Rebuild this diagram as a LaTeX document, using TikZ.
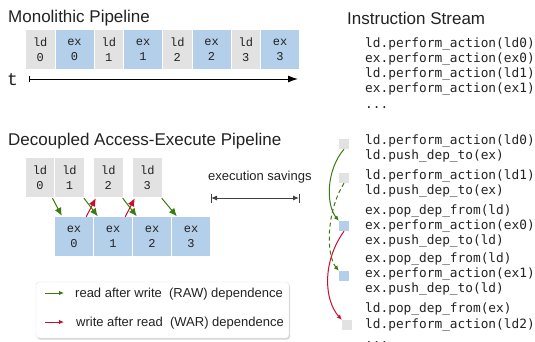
\documentclass[tikz,border=0pt]{standalone}
\usepackage{fontspec}
\setmainfont{Liberation Sans}
\newfontfamily\boxfont{Liberation Mono}
\newfontfamily\codefont{DejaVu Sans Mono}
\usetikzlibrary{arrows.meta,shadows,calc}
\definecolor{ldgray}{HTML}{E2E2E2}
\definecolor{exblue}{HTML}{B4CFEA}
\definecolor{rawgreen}{HTML}{3A7A0E}
\definecolor{warred}{HTML}{C4122E}
\definecolor{txt}{HTML}{222222}
\begin{document}
\begin{tikzpicture}[x=1pt,y=-1pt,
  stage/.style={inner sep=0pt, minimum height=39pt, align=center, text=txt,
    font=\boxfont\fontsize{12}{15}\selectfont},
  ldbox/.style={stage, fill=ldgray, minimum width=28.5pt},
  exbox/.style={stage, fill=exblue, minimum width=38pt},
  title/.style={anchor=base west, inner sep=0pt, text=txt, font=\fontsize{17}{20}\selectfont},
  label/.style={anchor=base west, inner sep=0pt, text=txt, font=\fontsize{13}{15}\selectfont},
  code/.style={anchor=base west, inner sep=0pt, text=txt, font=\codefont\fontsize{12.8}{15}\selectfont},
  sq/.style={inner sep=0pt, minimum size=10pt},
  raw/.style={draw=rawgreen, line width=1pt, -{Latex[length=8pt,width=7pt]}},
  war/.style={draw=warred, line width=1pt, -{Latex[length=8pt,width=7pt]}},
  rawsm/.style={draw=rawgreen, line width=1pt, -{Latex[length=5pt,width=4.5pt]}},
  warsm/.style={draw=warred, line width=1pt, -{Latex[length=5pt,width=4.5pt]}},
]
\useasboundingbox (0,0) rectangle (535,341);

% ---- Monolithic pipeline
\node[title] (t-mono) at (8,22) {Monolithic Pipeline};
\foreach \k in {0,1,2,3}{
  \node[ldbox] (m-ld\k) at ({40.25+68.5*\k},49.5) {ld\\\k};
  \node[exbox] (m-ex\k) at ({74.5+68.5*\k},49.5) {ex\\\k};
}
\node[anchor=base west, inner sep=0pt, text=txt, font=\boxfont\fontsize{18}{20}\selectfont] (t-lab) at (7,85.5) {t};
\coordinate (ax0) at (29,79);
\coordinate (ax1) at (298,79);
\draw[line width=1pt, {Bar[width=6pt]}-{Latex[length=10pt,width=7pt]}] (ax0) -- (ax1);

% ---- Decoupled pipeline
\node[title] (t-dae) at (8,145) {Decoupled Access-Execute Pipeline};
\node[ldbox] (d-ld0) at (40,177.5) {ld\\0};
\node[ldbox] (d-ld1) at (69.5,177.5) {ld\\1};
\node[ldbox] (d-ld2) at (108.25,177.5) {ld\\2};
\node[ldbox] (d-ld3) at (147.25,177.5) {ld\\3};
\foreach \k in {0,1,2,3}{
  \node[exbox] (d-ex\k) at ({74+39*\k},236.5) {ex\\\k};
}
\draw[raw] ($(d-ld0.south east)+(-2,1)$) -- ($(d-ex0.north west)+(7,-1)$);
\draw[war] ($(d-ex0.north east)+(-7,0)$) -- ($(d-ld2.south west)+(2,1)$);
\draw[raw] ($(d-ld1.south east)+(0,1)$) -- ($(d-ex1.north west)+(4,-0.5)$);
\draw[war] ($(d-ex1.north east)+(-7,0)$) -- ($(d-ld3.south west)+(2,1)$);
\draw[raw] ($(d-ld2.south east)+(0,1)$) -- ($(d-ex2.north west)+(4,-0.5)$);
\draw[raw] ($(d-ld3.south east)+(0,1)$) -- ($(d-ex3.north west)+(5,-0.5)$);

\node[label] (sav) at (208,180) {execution savings};
\coordinate (sv0) at (211,198);
\coordinate (sv1) at (299,198);
\draw[draw=black!75, line width=1pt, {Latex[length=6pt,width=5pt]}-{Latex[length=6pt,width=5pt]}] (sv0) -- (sv1);
\draw[draw=black!75, line width=1pt] ($(sv0)+(0,-4.5)$) -- ($(sv0)+(0,4.5)$);
\draw[draw=black!75, line width=1pt] ($(sv1)+(0,-4.5)$) -- ($(sv1)+(0,4.5)$);

% ---- Legend
\node[draw=black!12, fill=white, rounded corners=3pt, minimum width=253pt, minimum height=56pt,
  drop shadow={shadow xshift=1pt, shadow yshift=-1.5pt, opacity=0.35}] (leg) at (162.5,310) {};
\coordinate (lg0) at (45,293);
\coordinate (lg1) at (64,293);
\coordinate (lr0) at (45,322);
\coordinate (lr1) at (64,322);
\draw[rawsm] (lg0) -- (lg1);
\draw[warsm] (lr0) -- (lr1);
\node[label] (leg-raw) at (75,297.5) {read after write\ \ (RAW) dependence};
\node[label] (leg-war) at (76,326.5) {write after read\ \ (WAR) dependence};

% ---- Instruction stream
\node[title] (t-is) at (347,24.5) {Instruction Stream};
\node[code] (c1) at (365,47.5) {ld.perform\_action(ld0)};
\node[code] (c2) at (365,62.5) {ex.perform\_action(ex0)};
\node[code] (c3) at (365,77.5) {ld.perform\_action(ld1)};
\node[code] (c4) at (365,92.5) {ex.perform\_action(ex1)};
\node[code] (c5) at (365,108.5) {...};

\node[code] (s1) at (365,144.5) {ld.perform\_action(ld0)};
\node[code] (s2) at (365,159.5) {ld.push\_dep\_to(ex)};
\node[code] (s3) at (365,179.5) {ld.perform\_action(ld1)};
\node[code] (s4) at (365,194.5) {ld.push\_dep\_to(ex)};
\node[code] (s5) at (365,214) {ex.pop\_dep\_from(ld)};
\node[code] (s6) at (365,229.5) {ex.perform\_action(ex0)};
\node[code] (s7) at (365,244.5) {ex.push\_dep\_to(ld)};
\node[code] (s8) at (365,262.5) {ex.pop\_dep\_from(ld)};
\node[code] (s9) at (365,277.5) {ex.perform\_action(ex1)};
\node[code] (s10) at (365,292.5) {ex.push\_dep\_to(ld)};
\node[code] (s11) at (365,312.5) {ld.pop\_dep\_from(ex)};
\node[code] (s12) at (365,328) {ld.perform\_action(ld2)};
\node[code] (s13) at (365,343) {...};

\node[sq, fill=ldgray] (q1) at (344,144) {};
\node[sq, fill=ldgray] (q2) at (344,178) {};
\node[sq, fill=exblue] (q3) at (344,226) {};
\node[sq, fill=exblue] (q4) at (344,276) {};
\node[sq, fill=ldgray] (q5) at (347,325) {};
\draw[rawsm] (q1.south) .. controls (326,170) and (326,205) .. (q3.north west);
\draw[rawsm, dash pattern=on 4pt off 3pt] (q2.south) .. controls (326,212) and (326,255) .. (q4.north west);
\draw[warsm] (q3.south) .. controls (322,262) and (324,300) .. (q5.north west);
\end{tikzpicture}
\end{document}
